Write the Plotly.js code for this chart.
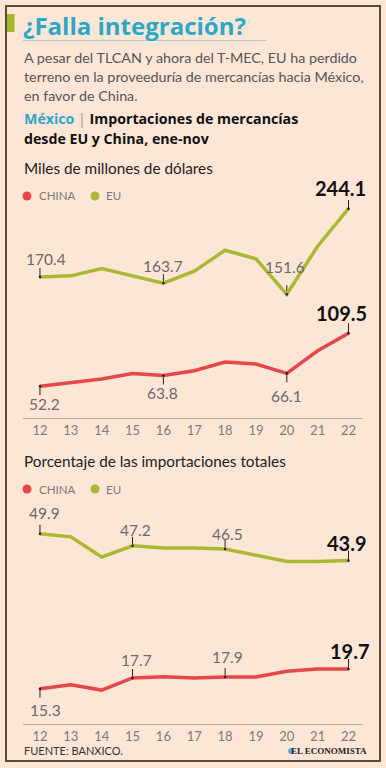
<!DOCTYPE html>
<html>
<head>
<meta charset="utf-8">
<script src="https://cdn.plot.ly/plotly-3.0.1.min.js"></script>
<style>html,body{margin:0;padding:0;background:#fde6d6;}#chart{width:386px;height:768px;}</style>
</head>
<body>
<div id="chart"></div>
<script>
// ---- data ----
var years = [12, 13, 14, 15, 16, 17, 18, 19, 20, 21, 22];
var yearLabels = ['12', '13', '14', '15', '16', '17', '18', '19', '20', '21', '22'];
var usdEU = [170.4, 171.5, 179.4, 171.8, 163.7, 176.5, 199.2, 189.9, 151.6, 203.6, 244.1];
var usdChina = [52.2, 56.5, 60.0, 65.9, 63.8, 69.0, 78.3, 76.2, 66.1, 90.5, 109.5];
var pctEU = [49.9, 49.2, 44.7, 47.2, 46.7, 46.7, 46.5, 45.2, 43.7, 43.7, 43.9];
var pctChina = [15.3, 16.2, 15.0, 17.7, 18.0, 17.7, 17.9, 17.9, 19.2, 19.7, 19.7];
var seriesNames = ['CHINA', 'EU'];
var titleText = '¿Falla integración?';
var subtitleLines = ['A pesar del TLCAN y ahora del T-MEC, EU ha perdido',
                     'terreno en la proveeduría de mercancías hacia México,',
                     'en favor de China.'];
var panel1Title = 'Miles de millones de dólares';
var panel2Title = 'Porcentaje de las importaciones totales';
var sourceText = 'FUENTE: BANXICO.';
var brandText = 'EL ECONOMISTA';

// ---- styling ----
var W = 386, H = 768;
var RED = '#e5474b', GREEN = '#a9b934', TEAL = '#2ba7c8', BG = '#fde6d6';
var FONT = 'Lato, "Open Sans", sans-serif';
var BOLDFONT = '"Open Sans", Lato, sans-serif';
function px(x){ return x / W; }
function py(y){ return 1 - y / H; }

var traces = [
  {x: years, y: usdEU, xaxis: 'x', yaxis: 'y', mode: 'lines', line: {color: GREEN, width: 3.5}, name: 'EU', hoverinfo: 'skip'},
  {x: years, y: usdChina, xaxis: 'x', yaxis: 'y', mode: 'lines', line: {color: RED, width: 3.5}, name: 'CHINA', hoverinfo: 'skip'},
  {x: years, y: pctEU, xaxis: 'x2', yaxis: 'y2', mode: 'lines', line: {color: GREEN, width: 3.5}, name: 'EU', hoverinfo: 'skip'},
  {x: years, y: pctChina, xaxis: 'x2', yaxis: 'y2', mode: 'lines', line: {color: RED, width: 3.5}, name: 'CHINA', hoverinfo: 'skip'}
];

var shapes = [];
var annotations = [];

// value labels: [series, axis suffix, index, dir(+1 above/-1 below), bold, xshift, yshift]
var labelSpecs = [
  [usdEU, '', 0, 1, false, 6, 18],
  [usdEU, '', 4, 1, false, 0, 17],
  [usdEU, '', 8, 1, false, -2, 27],
  [usdEU, '', 10, 1, true, -8, 21],
  [usdChina, '', 0, -1, false, 5, -18],
  [usdChina, '', 4, -1, false, -1, -17],
  [usdChina, '', 8, -1, false, 0, -23],
  [usdChina, '', 10, 1, true, -7, 20],
  [pctEU, '2', 0, 1, false, 5, 21],
  [pctEU, '2', 3, 1, false, 3, 16],
  [pctEU, '2', 6, 1, false, 2, 15],
  [pctEU, '2', 10, 1, true, -2, 18],
  [pctChina, '2', 3, 1, false, 4, 18],
  [pctChina, '2', 6, 1, false, 2, 20],
  [pctChina, '2', 10, 1, true, 1, 18],
  [pctChina, '2', 0, -1, false, 6, -21]
];
labelSpecs.forEach(function(s){
  var arr = s[0], ax = s[1], i = s[2], dir = s[3], bold = s[4];
  var v = arr[i];
  shapes.push({type: 'line', xref: 'x' + ax, yref: 'y' + ax, x0: years[i], x1: years[i],
    ysizemode: 'pixel', yanchor: v, y0: 0, y1: dir * (bold ? 10 : 9),
    line: {color: '#222', width: 1}, layer: 'below'});
  shapes.push({type: 'circle', xref: 'x' + ax, yref: 'y' + ax, xsizemode: 'pixel', ysizemode: 'pixel',
    xanchor: years[i], yanchor: v, x0: -1.3, x1: 1.3, y0: -1.3, y1: 1.3,
    fillcolor: '#222', line: {width: 0}});
  annotations.push({xref: 'x' + ax, yref: 'y' + ax, x: years[i], y: v, showarrow: false,
    text: bold ? '<b>' + v.toFixed(1) + '</b>' : v.toFixed(1),
    xshift: s[5], yshift: s[6], xanchor: 'center', yanchor: 'middle',
    font: bold ? {family: FONT, size: 20, color: '#111'} : {family: FONT, size: 15.5, color: '#6a6a6a'}});
});

// frame
shapes.push({type: 'rect', xref: 'paper', yref: 'paper', x0: px(6), x1: px(380), y0: py(761), y1: py(6),
  line: {color: '#5b4a3f', width: 2}, fillcolor: 'rgba(0,0,0,0)'});
// green marker bar
shapes.push({type: 'rect', xref: 'paper', yref: 'paper', x0: px(7), x1: px(14.5), y0: py(32), y1: py(14),
  line: {width: 0}, fillcolor: '#a5b52c'});
// title underline
shapes.push({type: 'line', xref: 'paper', yref: 'paper', x0: px(23), x1: px(267), y0: py(40.5), y1: py(40.5),
  line: {color: '#a8cdd2', width: 1}});

// title & texts
annotations.push({xref: 'paper', yref: 'paper', x: px(21), y: py(25), xanchor: 'left', yanchor: 'middle', showarrow: false,
  text: '<b>' + titleText + '</b>', font: {family: BOLDFONT, size: 24, color: TEAL}});
var subY = [57, 76.5, 95.5];
subtitleLines.forEach(function(t, k){
  annotations.push({xref: 'paper', yref: 'paper', x: px(22), y: py(subY[k]), xanchor: 'left', yanchor: 'middle', showarrow: false,
    text: t, font: {family: FONT, size: 14.3, color: '#555'}});
});
annotations.push({xref: 'paper', yref: 'paper', x: px(22), y: py(119), xanchor: 'left', yanchor: 'middle', showarrow: false,
  text: '<b><span style="color:' + TEAL + '">México</span></b> <span style="color:#999;font-weight:normal">|</span> <b>Importaciones de mercancías</b>',
  font: {family: BOLDFONT, size: 14.2, color: '#111'}});
annotations.push({xref: 'paper', yref: 'paper', x: px(22), y: py(138.5), xanchor: 'left', yanchor: 'middle', showarrow: false,
  text: '<b>desde EU y China, ene-nov</b>', font: {family: BOLDFONT, size: 14.2, color: '#111'}});
annotations.push({xref: 'paper', yref: 'paper', x: px(22), y: py(168), xanchor: 'left', yanchor: 'middle', showarrow: false,
  text: panel1Title, font: {family: FONT, size: 15.3, color: '#222'}});
annotations.push({xref: 'paper', yref: 'paper', x: px(22), y: py(460.5), xanchor: 'left', yanchor: 'middle', showarrow: false,
  text: panel2Title, font: {family: FONT, size: 15.3, color: '#222'}});

// legends
[196, 489].forEach(function(ly){
  [[27, 37, RED, seriesNames[0]], [95, 104, GREEN, seriesNames[1]]].forEach(function(e){
    shapes.push({type: 'circle', xref: 'paper', yref: 'paper', x0: px(e[0] - 4.5), x1: px(e[0] + 4.5),
      y0: py(ly + 4.5), y1: py(ly - 4.5), fillcolor: e[2], line: {width: 0}});
    annotations.push({xref: 'paper', yref: 'paper', x: px(e[1]), y: py(ly), xanchor: 'left', yanchor: 'middle', showarrow: false,
      text: e[3], font: {family: FONT, size: 11.5, color: '#7a7a7a'}});
  });
});

// footer
annotations.push({xref: 'paper', yref: 'paper', x: px(22), y: py(750.5), xanchor: 'left', yanchor: 'middle', showarrow: false,
  text: sourceText, font: {family: FONT, size: 11, color: '#333'}});
shapes.push({type: 'circle', xref: 'paper', yref: 'paper', x0: px(288), x1: px(294), y0: py(754), y1: py(748),
  fillcolor: '#6aa9d8', line: {width: 0}});
annotations.push({xref: 'paper', yref: 'paper', x: px(369), y: py(751), xanchor: 'right', yanchor: 'middle', showarrow: false,
  text: '<b>' + brandText + '</b>', font: {family: '"Liberation Serif", serif', size: 9, color: '#222'}});

var xBase = {
  range: [11.44, 22.47], domain: [px(22.7), px(363)], showline: true, linecolor: '#b9ada3', linewidth: 1,
  showgrid: false, zeroline: false, tickmode: 'array', tickvals: years, ticktext: yearLabels,
  ticks: '', tickfont: {family: FONT, size: 13, color: '#7a7a7a'}, fixedrange: true
};
var layout = {
  width: W, height: H, margin: {l: 0, r: 0, t: 0, b: 0},
  paper_bgcolor: BG, plot_bgcolor: 'rgba(0,0,0,0)', showlegend: false,
  xaxis: Object.assign({}, xBase, {anchor: 'y'}),
  yaxis: {domain: [py(418), py(200)], range: [17.9, 253.5], visible: false, fixedrange: true},
  xaxis2: Object.assign({}, xBase, {anchor: 'y2'}),
  yaxis2: {domain: [py(724), py(520)], range: [7.43, 52.96], visible: false, fixedrange: true},
  shapes: shapes, annotations: annotations
};
Plotly.newPlot('chart', traces, layout, {staticPlot: true, displayModeBar: false});
</script>
</body>
</html>
